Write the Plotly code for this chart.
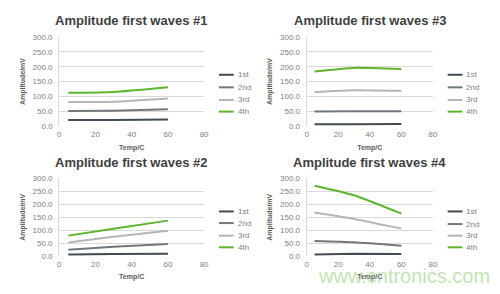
import plotly.graph_objects as go

temps = [5, 30, 60]
series_names = ["1st", "2nd", "3rd", "4th"]
series_colors = ["#414b53", "#72777b", "#b3b5b7", "#5cb52b"]

panel_titles = ["Amplitude first waves #1", "Amplitude first waves #3",
                "Amplitude first waves #2", "Amplitude first waves #4"]

wave1 = [[21, 21, 22], [51, 52, 57], [81, 82, 93], [112, 115, 131]]
wave3 = [[6, 6, 7], [49, 50, 50], [115, 121, 119], [184, 196, 192]]
wave2 = [[6, 8, 9], [24, 36, 47], [52, 75, 98], [79, 106, 137]]
wave4 = [[6, 9, 8], [58, 53, 40], [168, 143, 106], [272, 235, 164]]
panel_data = [wave1, wave3, wave2, wave4]

x_ticks = [0, 20, 40, 60, 80]
y_ticks = [0, 50, 100, 150, 200, 250, 300]

W, H = 500, 294
# plot-area pixel boxes (left, right, top, bottom)
boxes = [(58, 205, 34, 126), (309, 437, 34, 126), (58, 205, 180, 260), (309, 437, 180, 260)]
title_pos = [(131, 17), (373, 17), (131, 164), (373, 164)]
legend_x = [220, 452, 220, 452]
legend_y = [[73, 86, 99, 111], [73, 86, 99, 111], [214, 226, 239, 251], [214, 227, 239, 251]]

fig = go.Figure()
shapes = []
annotations = []

for i, data in enumerate(panel_data):
    xa = "x" if i == 0 else f"x{i+1}"
    ya = "y" if i == 0 else f"y{i+1}"
    for name, color, vals in zip(series_names, series_colors, data):
        fig.add_trace(go.Scatter(x=temps, y=vals, mode="lines", name=name,
                                 line=dict(color=color, width=2, shape="spline", smoothing=0.5),
                                 xaxis=xa, yaxis=ya, showlegend=False, hoverinfo="skip"))
    l, r, t, b = boxes[i]
    xkey = "xaxis" if i == 0 else f"xaxis{i+1}"
    ykey = "yaxis" if i == 0 else f"yaxis{i+1}"
    fig.update_layout(**{
        xkey: dict(domain=[l / W, r / W], range=[0, 80], tickvals=x_ticks,
                   showgrid=False, zeroline=False, showline=False, anchor=ya,
                   tickfont=dict(size=8, color="#7f7f7f", family="Liberation Sans"),
                   ticks="", ticklabelstandoff=2,
                   title=dict(text="Temp/C", standoff=6,
                              font=dict(size=7, color="#595959", family="Liberation Sans", weight="bold"))),
        ykey: dict(domain=[1 - b / H, 1 - t / H], range=[0, 300], tickvals=y_ticks,
                   tickformat=".1f", showgrid=True, gridcolor="#d9d9d9", gridwidth=1,
                   zeroline=False, showline=True, linecolor="#d9d9d9", linewidth=1,
                   anchor=xa, ticks="", ticklabelstandoff=4,
                   tickfont=dict(size=8, color="#7f7f7f", family="Liberation Sans"),
                   title=dict(text="Amplitude/mV", standoff=6,
                              font=dict(size=7, color="#595959", family="Liberation Sans", weight="bold"))),
    })
    tx, ty = title_pos[i]
    annotations.append(dict(text=panel_titles[i], x=tx / W, y=1 - ty / H, xref="paper", yref="paper",
                            showarrow=False, xanchor="center", yanchor="middle",
                            font=dict(size=13, color="#404040", family="Liberation Sans", weight="bold")))
    lx = legend_x[i]
    for name, color, ly in zip(series_names, series_colors, legend_y[i]):
        shapes.append(dict(type="line", xref="paper", yref="paper",
                           x0=lx / W, x1=(lx + 15) / W, y0=1 - ly / H, y1=1 - ly / H,
                           line=dict(color=color, width=2)))
        annotations.append(dict(text=name, x=(lx + 17) / W, y=1 - ly / H, xref="paper", yref="paper",
                                showarrow=False, xanchor="left", yanchor="middle",
                                font=dict(size=8, color="#7f7f7f", family="Liberation Sans")))

annotations.append(dict(text="www.cntronics.com", x=408 / W, y=1 - 281 / H, xref="paper", yref="paper",
                        showarrow=False, xanchor="center", yanchor="middle",
                        font=dict(size=20, color="rgba(140,205,110,0.55)", family="Liberation Sans")))

fig.update_layout(width=W, height=H, margin=dict(l=0, r=0, t=0, b=0),
                  paper_bgcolor="white", plot_bgcolor="white",
                  shapes=shapes, annotations=annotations, showlegend=False)

fig.write_html("out.html")
